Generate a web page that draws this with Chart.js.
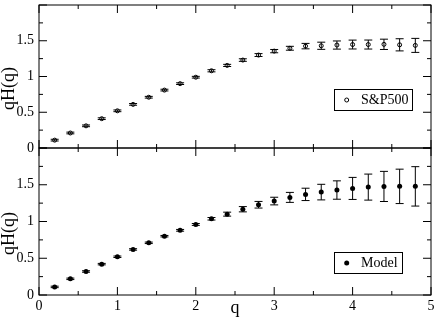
<!DOCTYPE html>
<html>
<head>
<meta charset="utf-8">
<script src="https://cdn.jsdelivr.net/npm/chart.js@4"></script>
<style>
html, body { margin: 0; padding: 0; background: #fff; }
#wrap { position: relative; width: 436px; height: 327px; overflow: hidden; }
#top { position: absolute; left: 0; top: 0; width: 436px; height: 160px; }
#bot { position: absolute; left: 0; top: 140px; width: 436px; height: 187px; }
</style>
</head>
<body>
<div id="wrap">
  <div id="top"><canvas id="chartTop"></canvas></div>
  <div id="bot"><canvas id="chartBot"></canvas></div>
</div>
<script>
// q values shared by both panels
const qValues = [0.2, 0.4, 0.6, 0.8, 1.0, 1.2, 1.4, 1.6, 1.8, 2.0, 2.2, 2.4,
                 2.6, 2.8, 3.0, 3.2, 3.4, 3.6, 3.8, 4.0, 4.2, 4.4, 4.6, 4.8];

// S&P500 (top panel)
const spValues = [0.11, 0.21, 0.31, 0.41, 0.52, 0.61, 0.71, 0.81, 0.90, 0.99, 1.08, 1.155,
                  1.23, 1.30, 1.355, 1.395, 1.425, 1.43, 1.44, 1.447, 1.447, 1.45, 1.443, 1.435];
const spErrors = [0.012, 0.012, 0.012, 0.012, 0.012, 0.012, 0.012, 0.012, 0.012, 0.012, 0.015, 0.015,
                  0.018, 0.02, 0.023, 0.027, 0.038, 0.05, 0.057, 0.062, 0.063, 0.072, 0.085, 0.098];

// Model (bottom panel)
const modelValues = [0.11, 0.22, 0.32, 0.42, 0.52, 0.62, 0.71, 0.80, 0.88, 0.96, 1.037, 1.10,
                     1.167, 1.228, 1.278, 1.328, 1.369, 1.40, 1.428, 1.45, 1.468, 1.477, 1.478, 1.478];
const modelErrors = [0.01, 0.01, 0.01, 0.01, 0.01, 0.01, 0.01, 0.01, 0.012, 0.013, 0.017, 0.027,
                     0.036, 0.045, 0.052, 0.068, 0.084, 0.106, 0.125, 0.15, 0.177, 0.205, 0.234, 0.268];

// tick labels
const xTicks = [0, 1, 2, 3, 4, 5];
const yTicks = [0, 0.5, 1, 1.5];

const serif = 'Liberation Serif';

// frame, inward ticks, error bars, legend box and axis titles
const framePlugin = {
    id: 'frame',
    beforeDatasetsDraw(chart, args, opts) {
        const {ctx, scales: {x, y}} = chart;
        ctx.save();
        ctx.strokeStyle = '#000';
        ctx.lineWidth = 1;
        ctx.beginPath();
        opts.errors.forEach((e, i) => {
            const px = x.getPixelForValue(qValues[i]);
            const y1 = y.getPixelForValue(opts.values[i] + e);
            const y2 = y.getPixelForValue(opts.values[i] - e);
            ctx.moveTo(px, y1); ctx.lineTo(px, y2);
            ctx.moveTo(px - 4, y1); ctx.lineTo(px + 4, y1);
            ctx.moveTo(px - 4, y2); ctx.lineTo(px + 4, y2);
        });
        ctx.stroke();
        ctx.restore();
    },
    afterDraw(chart, args, opts) {
        const {ctx, chartArea: a, scales: {x, y}} = chart;
        ctx.save();
        ctx.strokeStyle = '#000';
        ctx.lineWidth = 1;
        ctx.strokeRect(a.left, a.top, a.right - a.left, a.bottom - a.top);

        ctx.beginPath();
        for (let k = 0; k < xTicks.length; k++) {
            const major = x.getPixelForValue(xTicks[k]);
            ctx.moveTo(major, a.top); ctx.lineTo(major, a.top + 8);
            ctx.moveTo(major, a.bottom); ctx.lineTo(major, a.bottom - 8);
            if (k < xTicks.length - 1) {
                const minor = x.getPixelForValue((xTicks[k] + xTicks[k + 1]) / 2);
                ctx.moveTo(minor, a.top); ctx.lineTo(minor, a.top + 4);
                ctx.moveTo(minor, a.bottom); ctx.lineTo(minor, a.bottom - 4);
            }
        }
        for (let v = 0; v <= 2.0001; v += 0.25) {
            const py = y.getPixelForValue(v);
            const len = (Math.round(v * 4) % 2 === 0) ? 8 : 4;
            ctx.moveTo(a.left, py); ctx.lineTo(a.left + len, py);
            ctx.moveTo(a.right, py); ctx.lineTo(a.right - len, py);
        }
        ctx.stroke();

        // legend box
        ctx.font = '14px "' + serif + '"';
        const tw = ctx.measureText(opts.label).width;
        const bx = a.left + 295, by = a.top + opts.legendTop;
        const bw = 27 + tw + 4, bh = 21;
        ctx.strokeRect(Math.round(bx) + 0.5, Math.round(by) + 0.5, Math.round(bw), bh);
        ctx.beginPath();
        ctx.arc(bx + 12.7, by + bh / 2 + 0.5, opts.filled ? 2.5 : 2, 0, Math.PI * 2);
        if (opts.filled) { ctx.fillStyle = '#000'; ctx.fill(); } else { ctx.stroke(); }
        ctx.fillStyle = '#000';
        ctx.textBaseline = 'middle';
        ctx.textAlign = 'left';
        ctx.fillText(opts.label, bx + 27, by + bh / 2 + 1);

        // y title
        ctx.font = '18px "' + serif + '"';
        ctx.save();
        ctx.translate(9, (a.top + a.bottom) / 2 + 12);
        ctx.rotate(-Math.PI / 2);
        ctx.textAlign = 'center';
        ctx.textBaseline = 'middle';
        ctx.fillText('qH(q)', 0, 0);
        ctx.restore();

        if (opts.xTitle) {
            ctx.textAlign = 'center';
            ctx.textBaseline = 'alphabetic';
            ctx.fillText(opts.xTitle, (a.left + a.right) / 2, a.bottom + 18);
        }
        ctx.restore();
    }
};

function noEdgePadding(s) {
    s.paddingTop = 0;
    s.paddingBottom = 0;
    s.paddingLeft = 0;
    s.paddingRight = 0;
}

function makeOptions(showX, pad, frameOpts) {
    return {
        responsive: true,
        maintainAspectRatio: false,
        animation: false,
        layout: { padding: pad },
        plugins: {
            legend: { display: false },
            tooltip: { enabled: false },
            frame: frameOpts
        },
        scales: {
            x: {
                type: 'linear',
                min: 0,
                max: 5,
                display: showX,
                afterBuildTicks: s => { s.ticks = xTicks.map(v => ({ value: v })); },
                afterFit: s => { s.height = showX ? 32 : 0; noEdgePadding(s); },
                grid: { display: false, drawTicks: false },
                border: { display: false },
                ticks: { padding: 3, color: '#000', font: { family: serif, size: 14 }, callback: v => String(v) }
            },
            y: {
                type: 'linear',
                min: 0,
                max: 2,
                afterBuildTicks: s => { s.ticks = yTicks.map(v => ({ value: v })); },
                afterFit: s => { s.width = 39; noEdgePadding(s); },
                grid: { display: false, drawTicks: false },
                border: { display: false },
                ticks: { padding: 5, color: '#000', font: { family: serif, size: 14 }, callback: v => String(v) }
            }
        }
    };
}

new Chart(document.getElementById('chartTop'), {
    type: 'scatter',
    data: {
        datasets: [{
            label: 'S&P500',
            data: qValues.map((q, i) => ({ x: q, y: spValues[i] })),
            pointStyle: 'circle',
            pointRadius: 2,
            borderColor: '#000',
            borderWidth: 1,
            backgroundColor: 'rgba(0,0,0,0)'
        }]
    },
    options: makeOptions(false, { top: 1, right: 5, bottom: 12, left: 0 },
        { values: spValues, errors: spErrors, label: 'S&P500', legendTop: 84, filled: false }),
    plugins: [framePlugin]
});

new Chart(document.getElementById('chartBot'), {
    type: 'scatter',
    data: {
        datasets: [{
            label: 'Model',
            data: qValues.map((q, i) => ({ x: q, y: modelValues[i] })),
            pointStyle: 'circle',
            pointRadius: 2.5,
            borderColor: '#000',
            borderWidth: 0,
            backgroundColor: '#000'
        }]
    },
    options: makeOptions(true, { top: 8, right: 5, bottom: 0, left: 0 },
        { values: modelValues, errors: modelErrors, label: 'Model', legendTop: 104, filled: true, xTitle: 'q' }),
    plugins: [framePlugin]
});
</script>
</body>
</html>
